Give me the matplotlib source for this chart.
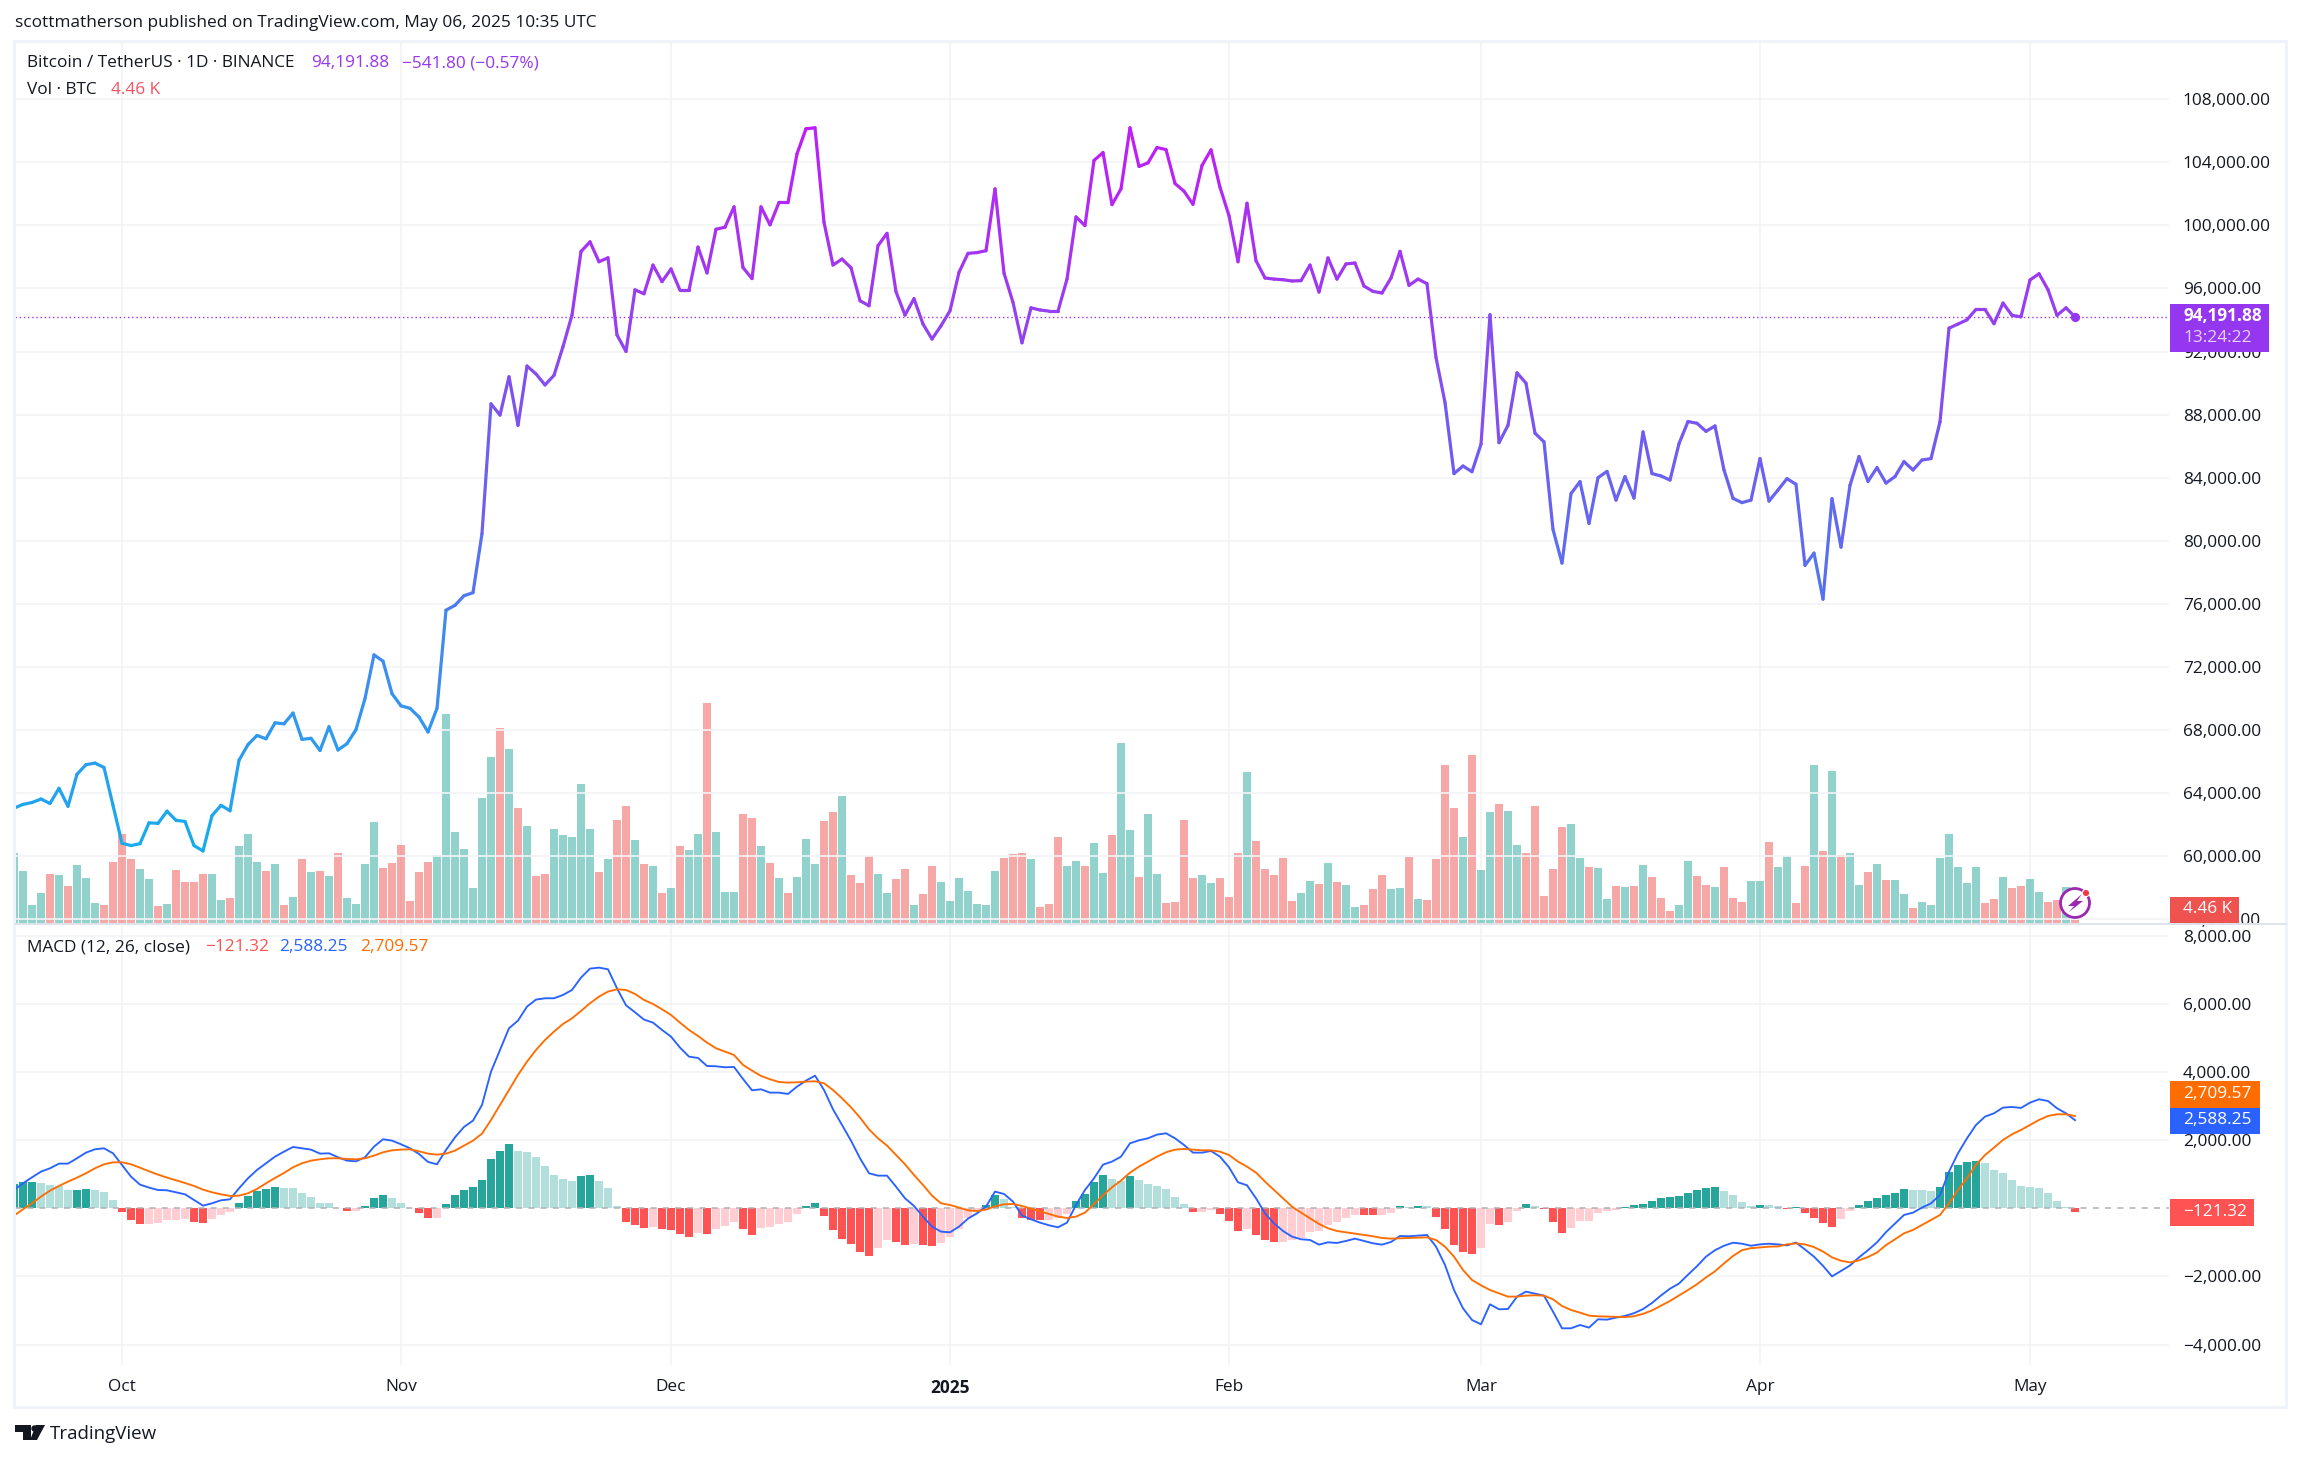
#!/usr/bin/env python3

import matplotlib
matplotlib.use("Agg")
import matplotlib.pyplot as plt
import matplotlib.dates as mdates
from matplotlib.collections import LineCollection
from matplotlib.colors import LinearSegmentedColormap, Normalize
from matplotlib.patches import Circle, Polygon, Rectangle
import numpy as np
import pandas as pd

plt.rcParams["font.family"] = ["Open Sans", "DejaVu Sans"]

W, H = 2301, 1460
INK = "#131722"
GRID = "#F2F3F5"
FRAME = "#F0F3FA"
TEAL = "#26A69A"
RED = "#EF5350"
FONT = 12.4

dates = pd.date_range("2024-09-19", "2025-05-06")

price = [
    63050, 63290, 63410, 63630, 63350, 64310, 63170, 65200, 65810, 65910, 65630, 63230,
    60830, 60680, 60800, 62120, 62090, 62860, 62280, 62210, 60680, 60340,
    62580, 63230, 62890, 66090, 67080, 67660, 67450, 68460, 68400, 69080,
    67410, 67480, 66710, 68210, 66740, 67140, 68030, 70000, 72770, 72370,
    70310, 69540, 69380, 68830, 67880, 69380, 75600, 75910, 76520, 76710,
    80460, 88680, 87970, 90400, 87320, 91080, 90580, 89880, 90490, 92310,
    94310, 98340, 98950, 97690, 97940, 93050, 92000, 95910, 95660, 97480,
    96430, 97230, 95880, 95880, 98620, 96980, 99750, 99880, 101170, 97320,
    96620, 101170, 100030, 101450, 101440, 104530, 106120, 106180, 100190, 97480,
    97860, 97310, 95220, 94900, 98710, 99490, 95790, 94310, 95350, 93740,
    92790, 93630, 94580, 97020, 98220, 98270, 98390, 102310, 96970, 95110,
    92550, 94770, 94630, 94560, 94560, 96590, 100530, 99980, 104110, 104610,
    101310, 102310, 106180, 103730, 103960, 104930, 104800, 102650, 102160, 101330,
    103790, 104780, 102410, 100610, 97690, 101400, 97760, 96660, 96590, 96550,
    96470, 96490, 97480, 95770, 97930, 96590, 97550, 97610, 96150, 95810,
    95710, 96660, 98350, 96190, 96590, 96300, 91620, 88770, 84260, 84740,
    84380, 86120, 94330, 86220, 87320, 90650, 89990, 86820, 86270, 80720,
    78590, 82990, 83750, 81100, 84000, 84400, 82580, 84070, 82710, 86900,
    84260, 84110, 83850, 86160, 87560, 87450, 86940, 87280, 84490, 82690,
    82420, 82580, 85210, 82520, 83220, 83940, 83580, 78440, 79220, 76300,
    82670, 79600, 83520, 85340, 83770, 84640, 83660, 84070, 85020, 84490,
    85120, 85210, 87540, 93480, 93740, 94010, 94670, 94670, 93760, 95070,
    94290, 94200, 96530, 96930, 95920, 94290, 94770, 94191.88,
]

volume = [
    105, 78, 27, 45, 73.5, 72, 55.5, 87, 67.5, 30, 27, 91.5,
    133.5, 96, 81, 66, 25.5, 28.5, 79.5, 61.5, 61.5, 73.5,
    73.5, 34.5, 37.5, 115.5, 133.5, 91.5, 78, 88.5, 27, 39,
    96, 76.5, 78, 70.5, 105, 37.5, 28.5, 88.5, 151.5, 82.5,
    90, 117, 33, 76.5, 91.5, 102, 313.5, 136.5, 111, 52.5,
    187.5, 249, 292.5, 261, 172.5, 145.5, 70.5, 73.5, 141, 132,
    129, 208.5, 141, 76.5, 96, 154.5, 175.5, 124.5, 88.5, 85.5,
    45, 52.5, 115.5, 109.5, 133.5, 330, 136.5, 46.5, 46.5, 163.5,
    157.5, 115.5, 90, 67.5, 45, 69, 126, 88.5, 153, 166.5,
    190.5, 72, 60, 100.5, 73.5, 45, 66, 81, 27, 43.5,
    85.5, 61.5, 33, 67.5, 48, 28.5, 27, 78, 97.5, 103.5,
    105, 96, 24, 28.5, 129, 85.5, 93, 85.5, 120, 75,
    132, 270, 139.5, 69, 163.5, 73.5, 30, 31.5, 154.5, 67.5,
    72, 60, 67.5, 39, 105, 226.5, 123, 81, 72, 97.5,
    33, 45, 63, 58.5, 90, 61.5, 57, 24, 27, 51,
    72, 51, 52.5, 99, 36, 34.5, 96, 237, 172.5, 129,
    252, 79.5, 166.5, 178.5, 168, 117, 105, 175.5, 40.5, 81,
    144, 148.5, 97.5, 84, 82.5, 36, 55.5, 54, 55.5, 87,
    69, 37.5, 18, 27, 93, 70.5, 57, 54, 84, 37.5,
    31.5, 63, 63, 121.5, 84, 100.5, 30, 85.5, 237, 108,
    228, 102, 105, 57, 76.5, 88.5, 64.5, 64.5, 43.5, 22.5,
    31.5, 27, 97.5, 133.5, 84, 60, 84, 30, 36, 69,
    52.5, 55.5, 66, 46.5, 31.5, 34.5, 54, 4.46,
]

vol_dir = (
    "GGGGRGRGGGRR" "RRGGRGRRRR" "GGRGGGRGRG" "RGRGRGGGGR" "RRRRRGGGGG"
    "GGRGRGRRGG" "GGGRGRRGRG" "RGRGGRGGGR" "RGRGRGGGRR" "GRRRGGRRGR"
    "RGGGGGGGRR" "RGRRRGGRGG" "RGGRGGRRRR" "GGRRRGRRRR" "RGGRGRGGRR"
    "RGGRGRRRRG" "RGGRGGRRRR" "RGGRGGRGRG" "RRRGGRRGRR" "RGGRGGRRGR"
    "GRGGRGRGGR" "GGGGGGGRRG" "RRGGRRGR"
)

hist = [
    715, 773, 773, 744, 685, 656, 538, 545, 568, 538, 480, 245,
    -108, -343, -460, -455, -431, -343, -340, -313, -401, -431,
    -313, -196, -108, 157, 362, 509, 568, 627, 597, 590,
    450, 333, 157, 150, 20, -78, -70, 69, 303, 392,
    303, 157, 20, -137, -284, -280, 127, 392, 538, 627,
    832, 1449, 1684, 1889, 1684, 1655, 1508, 1243, 979, 862,
    803, 950, 979, 803, 597, 69, -401, -490, -578, -548,
    -607, -636, -754, -842, -724, -754, -607, -519, -401, -607,
    -783, -578, -548, -460, -401, -166, 69, 157, -225, -636,
    -901, -1048, -1282, -1400, -1165, -930, -989, -1077, -1048, -1077,
    -1106, -1018, -842, -607, -294, -117, 98, 392, 274, 49,
    -284, -343, -350, -343, -294, -176, 215, 421, 773, 979,
    862, 803, 950, 832, 715, 656, 568, 333, 127, -108,
    -100, -49, -166, -372, -666, -607, -783, -930, -989, -985,
    -930, -871, -695, -666, -490, -401, -284, -196, -200, -205,
    -196, -137, 69, 39, 69, 65, -255, -607, -1077, -1282,
    -1341, -1165, -460, -490, -401, -69, 127, 69, -20, -401,
    -724, -578, -372, -365, -137, -90, -40, 35, 90, 140,
    220, 300, 340, 370, 450, 530, 610, 620, 520, 390,
    190, 70, 90, 85, 60, -30, 25, -150, -280, -420,
    -560, -300, -90, 90, 200, 300, 380, 460, 568, 538,
    530, 509, 627, 1067, 1273, 1361, 1390, 1331, 1126, 1038,
    832, 656, 627, 597, 450, 215, 39, -121.32,
]

macd = [
    538, 734, 910, 1077, 1175, 1312, 1312, 1469, 1635, 1733, 1762, 1615,
    1273, 930, 695, 607, 538, 529, 470, 411, 245, 78,
    147, 235, 264, 587, 881, 1126, 1322, 1517, 1664, 1801,
    1762, 1723, 1606, 1615, 1498, 1400, 1380, 1498, 1811, 2027,
    1987, 1880, 1762, 1596, 1361, 1292, 1713, 2085, 2389, 2575,
    3035, 4014, 4650, 5287, 5512, 5923, 6129, 6168, 6168, 6266,
    6412, 6775, 7039, 7068, 7019, 6461, 5962, 5757, 5541, 5453,
    5238, 5042, 4719, 4454, 4415, 4180, 4171, 4141, 4151, 3799,
    3466, 3495, 3397, 3397, 3358, 3573, 3750, 3896, 3475, 2908,
    2448, 1987, 1469, 1028, 959, 959, 636, 294, 69, -245,
    -538, -685, -705, -538, -303, -147, 49, 490, 421, 196,
    -215, -323, -421, -499, -558, -421, 98, 538, 881, 1282,
    1371, 1517, 1909, 1997, 2056, 2164, 2203, 2056, 1860, 1635,
    1635, 1684, 1517, 1204, 764, 676, 294, -147, -441, -666,
    -832, -910, -930, -1067, -999, -1018, -959, -891, -959, -1028,
    -1067, -989, -813, -822, -803, -783, -1126, -1664, -2399, -2937,
    -3280, -3407, -2820, -2966, -2957, -2594, -2448, -2506, -2565, -3035,
    -3524, -3524, -3427, -3505, -3260, -3270, -3210, -3160, -3080, -2960,
    -2780, -2560, -2360, -2210, -1950, -1700, -1420, -1230, -1100, -1010,
    -1040, -1100, -1060, -1040, -1060, -1090, -1005, -1210, -1420, -1690,
    -2000, -1840, -1680, -1440, -1230, -1000, -700, -450, -196, -127,
    20, 147, 392, 1077, 1615, 2056, 2448, 2692, 2790, 2957,
    2976, 2947, 3103, 3201, 3152, 2937, 2790, 2588.25,
]

signal = [
    -215, -29, 147, 343, 519, 656, 783, 901, 1028, 1175, 1292, 1351,
    1351, 1292, 1194, 1087, 989, 901, 822, 744, 656, 548,
    470, 411, 362, 372, 441, 568, 734, 891, 1038, 1204,
    1322, 1400, 1439, 1469, 1469, 1449, 1439, 1469, 1547, 1645,
    1703, 1723, 1733, 1674, 1606, 1576, 1606, 1694, 1841, 1987,
    2193, 2594, 3035, 3475, 3916, 4308, 4650, 4944, 5189, 5414,
    5580, 5796, 6021, 6217, 6364, 6432, 6412, 6295, 6119, 6001,
    5845, 5678, 5453, 5238, 5061, 4866, 4699, 4601, 4503, 4210,
    4043, 3887, 3789, 3710, 3691, 3700, 3720, 3730, 3671, 3475,
    3231, 2966, 2663, 2320, 2056, 1841, 1566, 1292, 979, 685,
    372, 147, 98, 20, -59, -78, -39, 59, 117, 127,
    69, -10, -88, -166, -245, -284, -245, -127, 127, 382,
    617, 813, 1048, 1224, 1371, 1517, 1645, 1723, 1743, 1723,
    1703, 1703, 1664, 1566, 1371, 1224, 1048, 783, 538, 294,
    49, -127, -294, -460, -587, -666, -705, -744, -783, -822,
    -871, -891, -881, -871, -862, -852, -930, -1126, -1420, -1811,
    -2105, -2261, -2399, -2496, -2594, -2594, -2565, -2555, -2565, -2673,
    -2868, -2986, -3064, -3152, -3172, -3180, -3190, -3195, -3170, -3100,
    -3000, -2860, -2720, -2560, -2400, -2230, -2030, -1850, -1620, -1400,
    -1230, -1170, -1150, -1125, -1120, -1060, -1030, -1060, -1140, -1270,
    -1440, -1540, -1590, -1530, -1430, -1300, -1080, -910, -734, -636,
    -490, -343, -196, 147, 538, 881, 1273, 1566, 1782, 2007,
    2173, 2301, 2448, 2594, 2712, 2761, 2761, 2709.57,
]

price_ticks = list(range(56000, 108001, 4000))
macd_ticks = [-4000, -2000, 2000, 4000, 6000, 8000]
month_starts = ["2024-10-01", "2024-11-01", "2024-12-01", "2025-01-01",
                "2025-02-01", "2025-03-01", "2025-04-01", "2025-05-01"]
month_labels = ["Oct", "Nov", "Dec", "2025", "Feb", "Mar", "Apr", "May"]

fig = plt.figure(figsize=(W / 100, H / 100), dpi=100, facecolor="white")


def pane(left, top, right, bottom):
    return fig.add_axes([left / W, 1 - bottom / H, (right - left) / W, (bottom - top) / H])


xnum = mdates.date2num(dates)
oct_first = mdates.date2num(pd.Timestamp("2024-10-01"))
xlim = (oct_first + (15 - 122) / 9, oct_first + (2169 - 122) / 9)
month_x = [mdates.date2num(pd.Timestamp(m)) for m in month_starts]

ax_vol = pane(15, 41, 2169, 923)
ax_price = pane(15, 41, 2169, 923)
ax_macd = pane(15, 925, 2169, 1365)

for ax in (ax_vol, ax_price, ax_macd):
    ax.set_xlim(xlim)
    for s in ax.spines.values():
        s.set_visible(False)

# volume under the price line
ax_vol.set_ylim(0, 1323)
ax_vol.set_yticks([])
ax_vol.set_xticks([])
ax_vol.vlines(month_x, 0, 1323, color=GRID, lw=1.2, zorder=0)
vol_colors = [TEAL if d == "G" else RED for d in vol_dir]
ax_vol.bar(xnum, volume, width=0.89, color=vol_colors, alpha=0.5, linewidth=0, zorder=2)

# price pane
ax_price.set_facecolor("none")
ax_price.set_ylim(55772, 111683)
ax_price.set_xticks([])
ax_price.yaxis.tick_right()
ax_price.set_yticks(price_ticks)
ax_price.set_yticklabels([f"{v:,.2f}" for v in price_ticks], fontsize=FONT, color=INK)
ax_price.tick_params(axis="y", length=0, pad=10)
ax_price.hlines(price_ticks, xlim[0], xlim[1], color=GRID, lw=1.2, zorder=0)

grad = LinearSegmentedColormap.from_list(
    "tv_line",
    [(0.0, "#14AEEE"), (0.25, "#3D8EF0"), (0.42, "#5A6EF0"), (0.60, "#7A55F0"),
     (0.77, "#9B3CF0"), (1.0, "#C31AF7")],
)
norm = Normalize(60000, 106500)
price_arr = np.array(price, dtype=float)
pts = np.column_stack([xnum, price_arr])
segs = np.stack([pts[:-1], pts[1:]], axis=1)
lc = LineCollection(segs, colors=grad(norm((price_arr[:-1] + price_arr[1:]) / 2)),
                    linewidths=2.3, capstyle="round", joinstyle="round", zorder=4)
ax_price.add_collection(lc)
ax_price.axhline(price[-1], color="#9537F0", lw=1, dashes=(1, 2), zorder=3)
ax_price.scatter(xnum[-1], price[-1], s=44, color="#9537F0", linewidths=0, zorder=5)

# macd pane
ax_macd.set_ylim(-4602, 8320)
ax_macd.yaxis.tick_right()
ax_macd.set_yticks(macd_ticks)
ax_macd.set_yticklabels([f"{v:,.2f}".replace("-", "\u2212") for v in macd_ticks],
                        fontsize=FONT, color=INK)
ax_macd.tick_params(axis="y", length=0, pad=10)
ax_macd.hlines(macd_ticks, xlim[0], xlim[1], color=GRID, lw=1.2, zorder=0)
ax_macd.vlines(month_x, -4602, 8320, color=GRID, lw=1.2, zorder=0)

hist_colors = []
for i, v in enumerate(hist):
    prev = hist[i - 1] if i else v
    if v >= 0:
        hist_colors.append("#26A69A" if v >= prev else "#B2DFDB")
    else:
        hist_colors.append("#FF5252" if v < prev or i == 0 else "#FFCDD2")
ax_macd.bar(xnum, hist, width=0.89, color=hist_colors, linewidth=0, zorder=2)
ax_macd.axhline(0, color="#AEB1B8", lw=1.1, dashes=(4, 4), zorder=3)
ax_macd.plot(xnum, macd, color="#2962FF", lw=1.35, zorder=4)
ax_macd.plot(xnum, signal, color="#FF6D00", lw=1.35, zorder=5)

ax_macd.set_xticks(month_x)
ax_macd.set_xticklabels(month_labels, fontsize=FONT, color=INK)
ax_macd.get_xticklabels()[3].set_fontweight("bold")
ax_macd.tick_params(axis="x", length=0, pad=10)

# overlay in pixel coordinates for frame, legends, price tags and logos
ov = fig.add_axes([0, 0, 1, 1], facecolor="none", zorder=10)
ov.set_xlim(0, W)
ov.set_ylim(H, 0)
ov.axis("off")

ov.add_patch(Rectangle((14, 41), 2272, 1366, fill=False, edgecolor=FRAME, lw=2.2))
ov.plot([15, 2286], [924, 924], color="#E0E3EB", lw=1.4)


def label(x, y, s, color=INK, size=FONT, **kw):
    ov.text(x, y, s, color=color, fontsize=size, va="center", ha="left", **kw)


label(15, 23, "scottmatherson published on TradingView.com, May 06, 2025 10:35 UTC")
label(27, 63, "Bitcoin / TetherUS \u00b7 1D \u00b7 BINANCE")
label(311, 63, "94,191.88", color="#9537F0")
label(402, 63, "\u2212541.80 (\u22120.57%)", color="#9537F0")
label(27, 90, "Vol \u00b7 BTC")
label(111, 90, "4.46 K", color="#F7525F")
label(27, 947, "MACD (12, 26, close)")
label(205, 947, "\u2212121.32", color="#FF5252")
label(279, 947, "2,588.25", color="#2962FF")
label(360, 947, "2,709.57", color="#FF6D00")


def tag(x0, y0, x1, y1, color, text):
    ov.add_patch(Rectangle((x0, y0), x1 - x0, y1 - y0, facecolor=color, edgecolor="none"))
    label(2183, (y0 + y1) / 2 - 1, text, color="white")


tag(2170, 304, 2269, 352, "#9537F0", "")
label(2183, 316, "94,191.88", color="white", fontweight="bold")
label(2183, 338, "13:24:22", color="#E5D3FC")
tag(2170, 897, 2239, 923, "#EF5350", "4.46 K")
tag(2170, 1081, 2260, 1108, "#FF6D00", "2,709.57")
tag(2170, 1108, 2260, 1134, "#2962FF", "2,588.25")
tag(2170, 1199, 2254, 1226, "#FF5252", "\u2212121.32")

# alert badge on the last volume bar
ov.add_patch(Circle((2075, 903), 14.5, facecolor="white", edgecolor="#9C27B0", lw=2))
ov.add_patch(Polygon([(2082, 894), (2068, 906), (2074, 906), (2069, 912),
                      (2083, 901), (2077, 901)], closed=True, facecolor="#9C27B0"))
ov.add_patch(Circle((2086, 893), 3.6, facecolor="#F23645", edgecolor="white", lw=0.8))

# TradingView logo
ov.add_patch(Polygon([(15, 1425), (31, 1425), (31, 1440), (23, 1440), (23, 1432), (15, 1432)],
                     closed=True, facecolor=INK))
ov.add_patch(Circle((34.5, 1428.5), 3.2, facecolor=INK))
ov.add_patch(Polygon([(37, 1440), (45, 1425), (36, 1425), (30, 1440)], closed=True, facecolor=INK))
label(50, 1434, "TradingView", size=13.5)

fig.savefig("out.png", dpi=100, facecolor="white")
